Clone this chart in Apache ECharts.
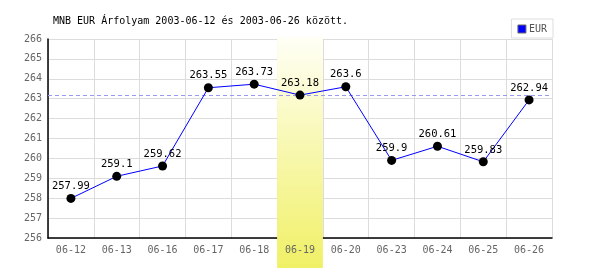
<!DOCTYPE html>
<html><head><meta charset="utf-8">
<script src="https://cdn.jsdelivr.net/npm/echarts@6/dist/echarts.min.js"></script>
<style>html,body{margin:0;padding:0;background:#fff}#c{width:600px;height:270px}</style>
</head><body><div id="c"></div>
<script>
var categories = ['06-12','06-13','06-16','06-17','06-18','06-19','06-20','06-23','06-24','06-25','06-26'];
var eurValues = [257.99, 259.1, 259.62, 263.55, 263.73, 263.18, 263.6, 259.9, 260.61, 259.83, 262.94];
var yTicks = [256, 257, 258, 259, 260, 261, 262, 263, 264, 265, 266];
var highlightIndex = 5;
var titleText = 'MNB EUR Árfolyam 2003-06-12 és 2003-06-26 között.';

var mono = '"DejaVu Sans Mono", "Liberation Mono", monospace';
var bandData = categories.map(function(c, i){ return i === highlightIndex ? 1 : null; });

var chart = echarts.init(document.getElementById('c'), null, {renderer:'canvas'});
chart.setOption({
  animation: false,
  backgroundColor: '#fff',
  title: {
    text: titleText, left: 48, top: 11,
    textStyle: {fontFamily: mono, fontSize: 10, fontWeight: 'normal', color: '#000'}
  },
  legend: {
    data: [{name: 'EUR', itemStyle: {color: '#0000ff', borderColor: '#666', borderWidth: 1}}],
    right: 47, top: 19, padding: [5, 6, 4, 6],
    borderColor: '#ddd', borderWidth: 1, backgroundColor: '#fff',
    icon: 'rect', itemWidth: 8, itemHeight: 8, itemGap: 4,
    textStyle: {fontFamily: mono, fontSize: 10, color: '#555', padding: [0,0,0,-2]}
  },
  grid: [
    {left: 48, right: 48, top: 39, bottom: 32},
    {left: 48, right: 48, top: 37, bottom: 2}
  ],
  xAxis: [
    {type: 'category', gridIndex: 0, data: categories, boundaryGap: true,
     axisLine: {lineStyle: {color: '#000', width: 1.5}}, axisTick: {show: false},
     axisLabel: {show: false},
     splitLine: {show: true, interval: 0, lineStyle: {color: '#dcdcdc', width: 1}}},
    {type: 'category', gridIndex: 0, data: categories, position: 'bottom', z: 10,
     axisLine: {show: false}, axisTick: {show: false}, splitLine: {show: false},
     axisLabel: {interval: 0, margin: 7, fontFamily: mono, fontSize: 10, color: '#666'}},
    {type: 'category', gridIndex: 1, data: categories, show: false}
  ],
  yAxis: [
    {type: 'value', gridIndex: 0, min: yTicks[0], max: yTicks[yTicks.length-1], interval: 1,
     axisLine: {show: true, lineStyle: {color: '#000', width: 1.5}}, axisTick: {show: false},
     axisLabel: {margin: 6, fontFamily: mono, fontSize: 10, color: '#666'},
     splitLine: {lineStyle: {color: '#dcdcdc', width: 1}}},
    {type: 'value', gridIndex: 1, min: 0, max: 1, show: false}
  ],
  series: [
    {type: 'bar', name: 'band', xAxisIndex: 2, yAxisIndex: 1, data: bandData,
     barWidth: '100%', z: 1, silent: true, legendHoverLink: false,
     itemStyle: {color: new echarts.graphic.LinearGradient(0,0,0,1,[
       {offset: 0, color: '#fffff6'}, {offset: 1, color: '#f0f066'}])}},
    {type: 'line', name: 'EUR', xAxisIndex: 0, yAxisIndex: 0, data: eurValues, z: 5,
     color: '#0000ff',
     lineStyle: {color: '#0000ff', width: 1},
     symbol: 'circle', symbolSize: 9,
     itemStyle: {color: '#000', borderWidth: 0},
     label: {show: true, position: 'top', distance: 2, fontFamily: mono, fontSize: 10.5, color: '#000'},
     markLine: {silent: true, symbol: 'none', label: {show: false},
       lineStyle: {color: '#9999ee', type: [4, 3], width: 1},
       data: [{yAxis: eurValues[highlightIndex]}]}}
  ]
});
</script></body></html>
